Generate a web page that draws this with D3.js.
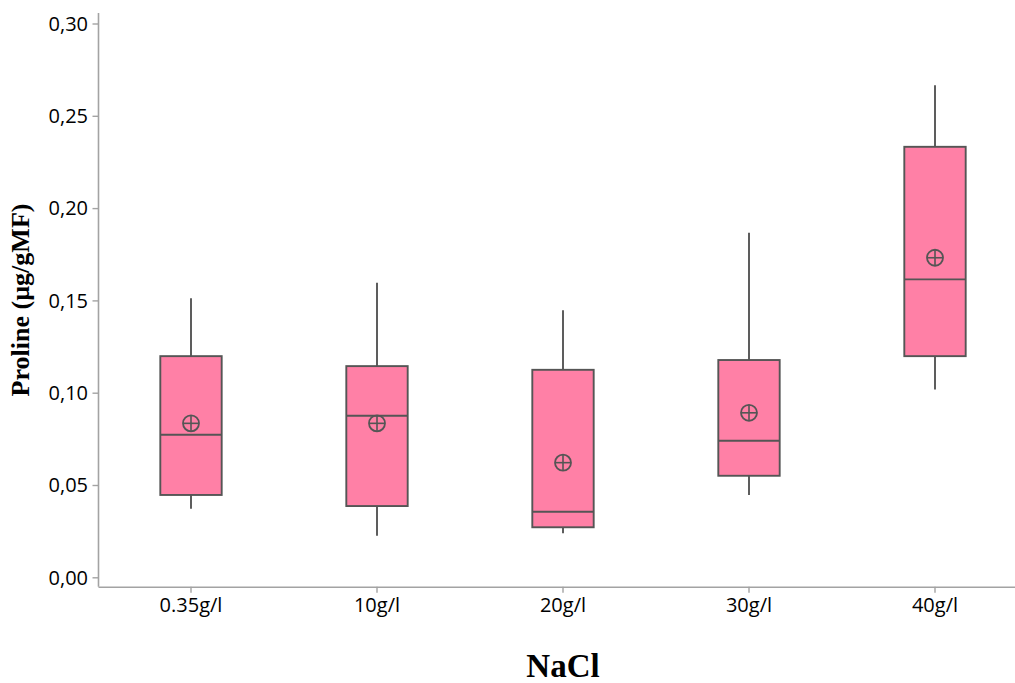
<!DOCTYPE html>
<html>
<head>
<meta charset="utf-8">
<script src="https://cdn.jsdelivr.net/npm/d3@7"></script>
<style>
  html, body { margin: 0; padding: 0; background: #fff; }
  svg { display: block; }
</style>
</head>
<body>
<svg id="chart" width="1015" height="683"></svg>
<script>
// Proline content by NaCl concentration: box-plot summary per group
const categories = ["0.35g/l", "10g/l", "20g/l", "30g/l", "40g/l"];
const minValues    = [0.0371, 0.0225, 0.0238, 0.0446, 0.1018];
const q1Values     = [0.0446, 0.0386, 0.0271, 0.0550, 0.1198];
const medianValues = [0.0772, 0.0875, 0.0355, 0.0740, 0.1614];
const q3Values     = [0.1198, 0.1144, 0.1124, 0.1177, 0.2332];
const maxValues    = [0.1511, 0.1595, 0.1447, 0.1866, 0.2666];
const meanValues   = [0.0834, 0.0834, 0.0621, 0.0891, 0.1731];
const yTicks = [0, 0.05, 0.10, 0.15, 0.20, 0.25, 0.30];

const boxes = categories.map((c, i) => ({
  cat: c, min: minValues[i], q1: q1Values[i], median: medianValues[i],
  q3: q3Values[i], max: maxValues[i], mean: meanValues[i]
}));

const svg = d3.select("#chart");
const axisColor = "#a3a3a3";
const boxStroke = "#555555";
const boxFill = "#ff80a6";
const strokeW = 1.9;
const tickFont = "'Open Sans', 'Noto Sans', sans-serif";
const serifFont = "'Liberation Serif', 'Times New Roman', serif";

const x = d3.scaleBand().domain(categories).range([98, 1028]).padding(0);
const y = d3.scaleLinear().domain([0, 0.30]).range([577.3, 23.5]);
const xAxisY = 586.7;
const boxW = x.bandwidth() * 0.33;

// y axis
const yAxis = svg.append("g").attr("transform", "translate(98.5,0)")
  .call(d3.axisLeft(y).tickValues(yTicks).tickSize(6).tickSizeOuter(0)
    .tickFormat(d => d3.format(".2f")(d).replace(".", ",")));
yAxis.select(".domain").remove();
yAxis.append("line").attr("x1", 0).attr("x2", 0).attr("y1", 13).attr("y2", xAxisY)
  .attr("stroke", axisColor).attr("stroke-width", 1.6);
yAxis.selectAll(".tick line").attr("stroke", axisColor).attr("stroke-width", 1.4);
yAxis.selectAll(".tick text").attr("x", -10.5).attr("fill", "#000")
  .style("font-family", tickFont).style("font-size", "20px").attr("dy", "0.34em");

// x axis
const xAxis = svg.append("g").attr("transform", `translate(0,${xAxisY})`)
  .call(d3.axisBottom(x).tickSize(6).tickSizeOuter(0));
xAxis.select(".domain").attr("stroke", axisColor).attr("stroke-width", 1.6);
xAxis.selectAll(".tick line").attr("stroke", axisColor).attr("stroke-width", 1.4);
xAxis.selectAll(".tick text").attr("y", 11).attr("fill", "#000")
  .style("font-family", tickFont).style("font-size", "20px");

// boxes
const g = svg.append("g");
const groups = g.selectAll("g.box").data(boxes).join("g").attr("class", "box")
  .attr("transform", d => `translate(${x(d.cat) + x.bandwidth() / 2},0)`);

// whiskers
groups.append("line").attr("x1", 0).attr("x2", 0)
  .attr("y1", d => y(d.max)).attr("y2", d => y(d.q3))
  .attr("stroke", boxStroke).attr("stroke-width", strokeW);
groups.append("line").attr("x1", 0).attr("x2", 0)
  .attr("y1", d => y(d.q1)).attr("y2", d => y(d.min))
  .attr("stroke", boxStroke).attr("stroke-width", strokeW);

groups.append("rect")
  .attr("x", -boxW / 2).attr("width", boxW)
  .attr("y", d => y(d.q3)).attr("height", d => y(d.q1) - y(d.q3))
  .attr("fill", boxFill).attr("stroke", boxStroke).attr("stroke-width", strokeW);

groups.append("line")
  .attr("x1", -boxW / 2).attr("x2", boxW / 2)
  .attr("y1", d => y(d.median)).attr("y2", d => y(d.median))
  .attr("stroke", boxStroke).attr("stroke-width", strokeW);

// mean marker: circle with cross
const r = 8;
groups.append("circle").attr("cx", 0).attr("cy", d => y(d.mean)).attr("r", r)
  .attr("fill", "none").attr("stroke", boxStroke).attr("stroke-width", 1.8);
groups.append("line").attr("x1", -r).attr("x2", r)
  .attr("y1", d => y(d.mean)).attr("y2", d => y(d.mean))
  .attr("stroke", boxStroke).attr("stroke-width", 1.6);
groups.append("line").attr("x1", 0).attr("x2", 0)
  .attr("y1", d => y(d.mean) - r).attr("y2", d => y(d.mean) + r)
  .attr("stroke", boxStroke).attr("stroke-width", 1.6);

// axis titles
svg.append("text").attr("x", 563).attr("y", 677).attr("text-anchor", "middle")
  .style("font-family", serifFont)
  .style("font-weight", "bold").style("font-size", "33px").text("NaCl");

svg.append("text")
  .attr("transform", "translate(29,300) rotate(-90)")
  .attr("text-anchor", "middle")
  .style("font-family", serifFont)
  .style("font-weight", "bold").style("font-size", "26px").text("Proline (µg/gMF)");
</script>
</body>
</html>
